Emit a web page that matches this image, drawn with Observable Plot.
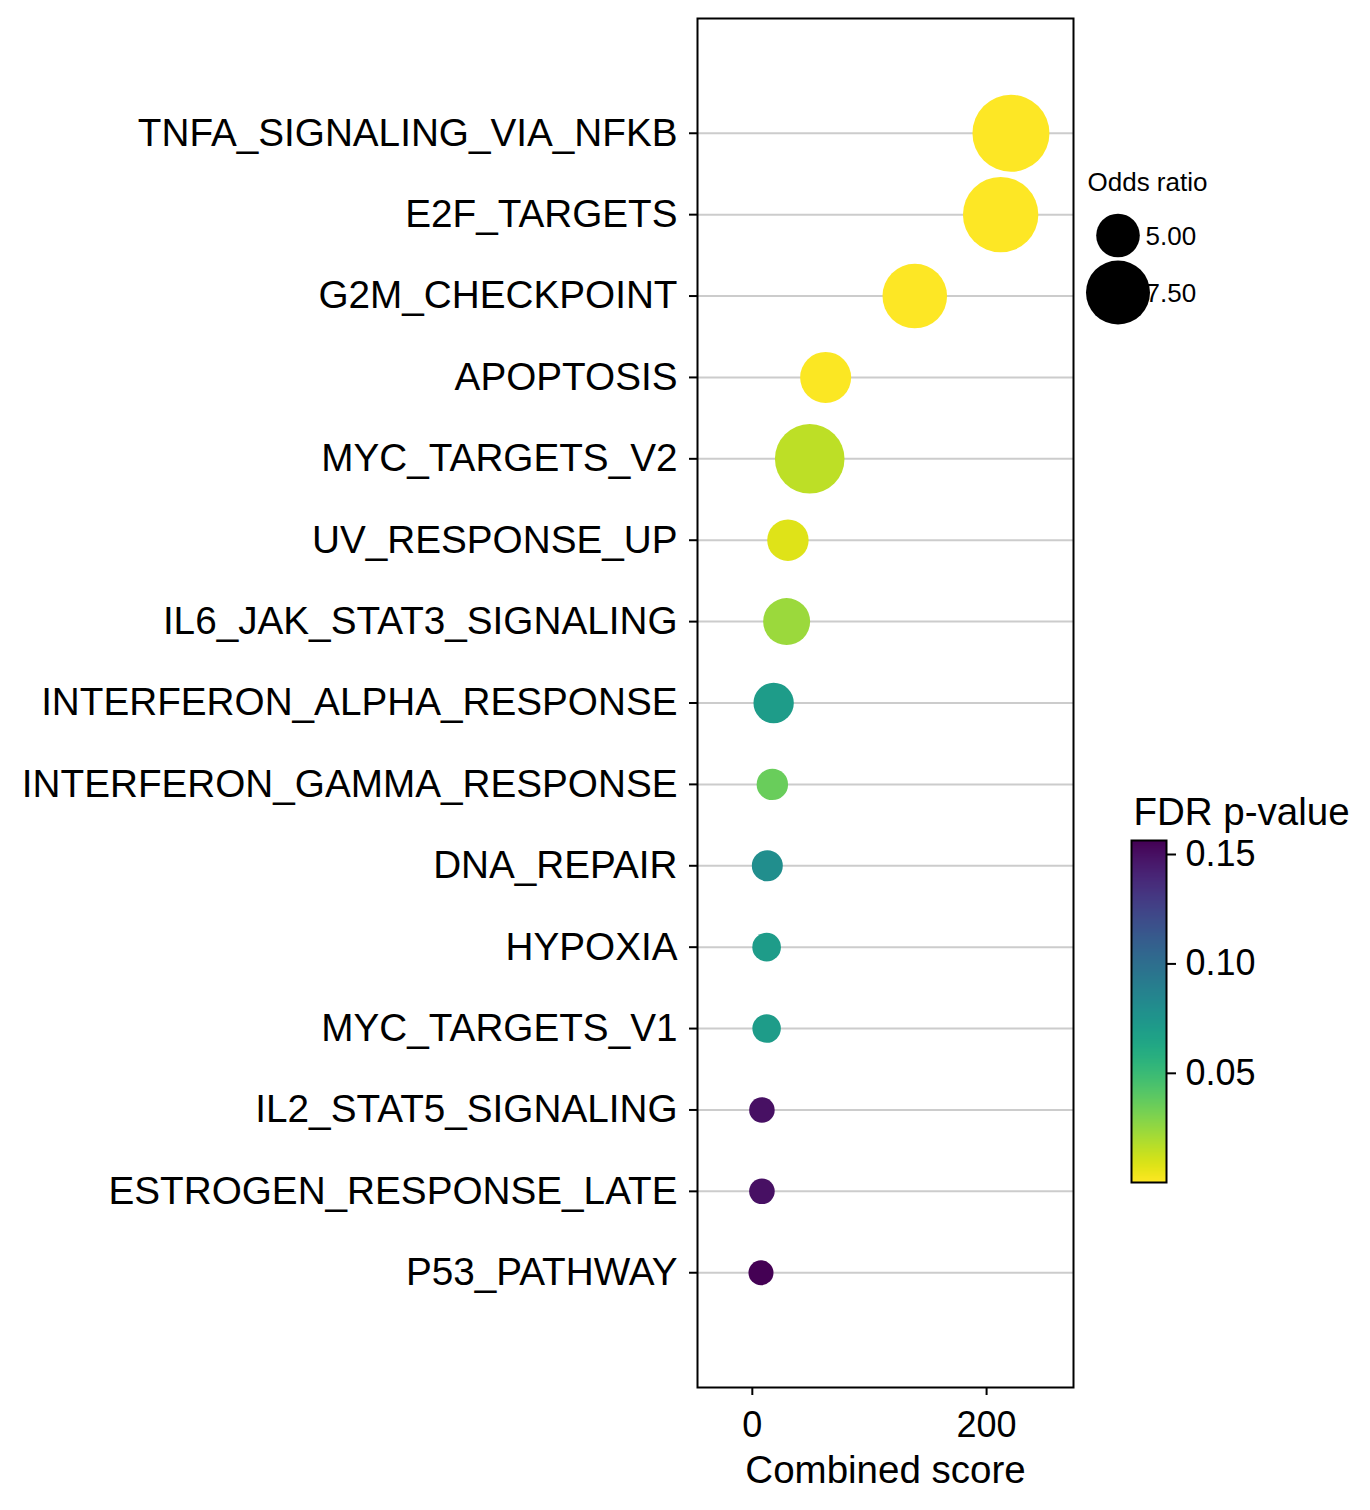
<!DOCTYPE html>
<html>
<head>
<meta charset="utf-8">
<script src="https://cdn.jsdelivr.net/npm/d3@7"></script>
<script src="https://cdn.jsdelivr.net/npm/@observablehq/plot@0.6"></script>
<style>
  html, body { margin: 0; padding: 0; background: #fff; }
  #wrap { position: relative; width: 1370px; height: 1510px; font-family: "Liberation Sans", Arial, sans-serif; }
  #wrap > svg, #wrap > figure { position: absolute; margin: 0; }
</style>
</head>
<body>
<div id="wrap"></div>
<script>
// ---- data ----
const categories = [
  "TNFA_SIGNALING_VIA_NFKB", "E2F_TARGETS", "G2M_CHECKPOINT", "APOPTOSIS",
  "MYC_TARGETS_V2", "UV_RESPONSE_UP", "IL6_JAK_STAT3_SIGNALING",
  "INTERFERON_ALPHA_RESPONSE", "INTERFERON_GAMMA_RESPONSE", "DNA_REPAIR",
  "HYPOXIA", "MYC_TARGETS_V1", "IL2_STAT5_SIGNALING", "ESTROGEN_RESPONSE_LATE",
  "P53_PATHWAY"
];
const combinedScore = [220.8, 212.0, 138.7, 62.6, 49.0, 30.4, 29.3, 18.2, 17.1, 12.8, 12.2, 12.2, 8.2, 8.2, 7.4];
const oddsRatio     = [9.59, 9.31, 7.59, 5.80, 8.35, 4.79, 5.35, 4.69, 3.96, 3.93, 3.77, 3.76, 3.58, 3.58, 3.55];
const fdrPValue     = [0.0001, 0.0002, 0.0004, 0.0010, 0.0157, 0.0079, 0.0235, 0.0704, 0.0360, 0.0798, 0.0704, 0.0704, 0.1500, 0.1500, 0.1564];
const xTicks = [0, 200];
const sizeLegendValues = [5.0, 7.5];
const colorTicks = [0.05, 0.10, 0.15];

const rows = categories.map((term, i) => ({
  term, score: combinedScore[i], or: oddsRatio[i], fdr: fdrPValue[i]
}));

// ---- shared scales ----
const FONT = "'Liberation Sans', Arial, sans-serif";
const rScale = { type: "sqrt", transform: v => v - 2.837, domain: [0, 1], range: [0, 14.82] };
const colorScale = { type: "linear", scheme: "viridis", reverse: true, domain: [d3.min(fdrPValue), d3.max(fdrPValue)] };

const wrap = document.getElementById("wrap");

// ---- main chart ----
const main = Plot.plot({
  width: 1085, height: 1510,
  marginLeft: 697, marginRight: 12, marginTop: 18, marginBottom: 123,
  style: { fontFamily: FONT, fontSize: "38.7px", color: "black", background: "transparent" },
  x: { domain: [-46.8, 274.2], label: null },
  y: { type: "point", domain: categories, padding: 1.41, round: false, label: null },
  r: rScale,
  color: colorScale,
  marks: [
    Plot.ruleY(categories, { y: d => d, stroke: "#cccccc", strokeWidth: 2 }),
    Plot.dot(rows, { x: "score", y: "term", r: "or", fill: "fdr", stroke: "none" }),
    Plot.frame({ stroke: "black", strokeWidth: 2 }),
    Plot.axisX({ ticks: xTicks, tickSize: 8, tickPadding: 16, strokeWidth: 2, fontSize: 36, label: null, tickFormat: d3.format("d") }),
    Plot.axisY({ anchor: "left", tickSize: 8, tickPadding: 12, strokeWidth: 2, fontSize: 38.7, label: null }),
    Plot.text(["Combined score"], { frameAnchor: "bottom", lineAnchor: "middle", dy: 83, fontSize: 38.5, fill: "black" })
  ]
});
main.style.left = "0px"; main.style.top = "0px";
wrap.appendChild(main);

// ---- size legend (Odds ratio) ----
const sizeLegend = Plot.plot({
  width: 160, height: 180,
  marginLeft: 0, marginRight: 0, marginTop: 0, marginBottom: 0,
  style: { fontFamily: FONT, fontSize: "26px", color: "black", background: "transparent", overflow: "visible" },
  x: { axis: null },
  y: { type: "point", domain: sizeLegendValues, range: [85, 142], padding: 0, axis: null },
  r: rScale,
  marks: [
    Plot.text(["Odds ratio"], { frameAnchor: "top-left", lineAnchor: "middle", dx: 12, dy: 32, textAnchor: "start", fontSize: 26, fill: "black" }),
    Plot.text(sizeLegendValues, { y: d => d, text: d => d.toFixed(2), frameAnchor: "left", lineAnchor: "middle", dx: 70, dy: 1, textAnchor: "start", fontSize: 26, fill: "black" }),
    Plot.dot(sizeLegendValues, { y: d => d, r: d => d, frameAnchor: "left", dx: 42.5, fill: "black", stroke: "none" })
  ]
});
sizeLegend.style.left = "1075px"; sizeLegend.style.top = "150px";
wrap.appendChild(sizeLegend);

// ---- colour bar (FDR p-value) ----
const cbar = Plot.plot({
  width: 270, height: 420,
  marginLeft: 31, marginRight: 204, marginTop: 50, marginBottom: 28,
  style: { fontFamily: FONT, fontSize: "36px", color: "black", background: "transparent", overflow: "visible" },
  x: { domain: [0, 1], axis: null },
  y: { domain: colorScale.domain, label: null },
  color: colorScale,
  marks: [
    Plot.raster({ x1: 0, x2: 1, y1: colorScale.domain[0], y2: colorScale.domain[1], width: 1, height: 256, fill: (x, y) => y, imageRendering: "auto" }),
    Plot.frame({ stroke: "black", strokeWidth: 2 }),
    Plot.axisY({ anchor: "right", ticks: colorTicks, tickFormat: d3.format(".2f"), tickSize: 9, tickPadding: 10, strokeWidth: 2, fontSize: 36, label: null }),
    Plot.text(["FDR p-value"], { frameAnchor: "top-left", lineAnchor: "middle", dx: 2, dy: -28, textAnchor: "start", fontSize: 38.5, fill: "black" })
  ]
});
cbar.style.left = "1100px"; cbar.style.top = "790px";
wrap.appendChild(cbar);
</script>
</body>
</html>
